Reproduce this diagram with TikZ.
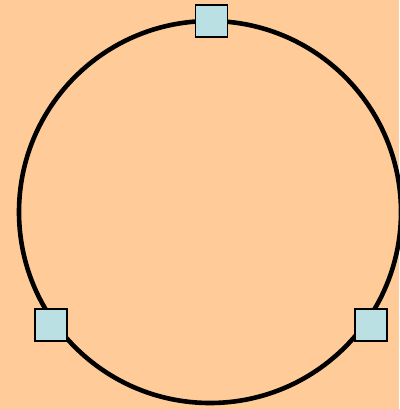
\documentclass[tikz,border=0pt]{standalone}
\usepackage{tikz}
\definecolor{peach}{RGB}{255,204,153}
\definecolor{paleblue}{RGB}{187,224,227}
\tikzset{
  port/.style={draw=black, line width=1.6pt, fill=paleblue, minimum size=32pt, inner sep=0pt},
}

\begin{document}
\begin{tikzpicture}[x=1pt, y=-1pt]
  \fill[peach] (0, 0) rectangle (399, 409);
  \useasboundingbox (0, 0) rectangle (399, 409);
  \draw[line width=4.6pt] (210, 212) circle (191pt);
  \node[port] (top) at (211.5, 21) {};
  \node[port] (left) at (51, 325) {};
  \node[port] (right) at (371, 325) {};
\end{tikzpicture}
\end{document}
